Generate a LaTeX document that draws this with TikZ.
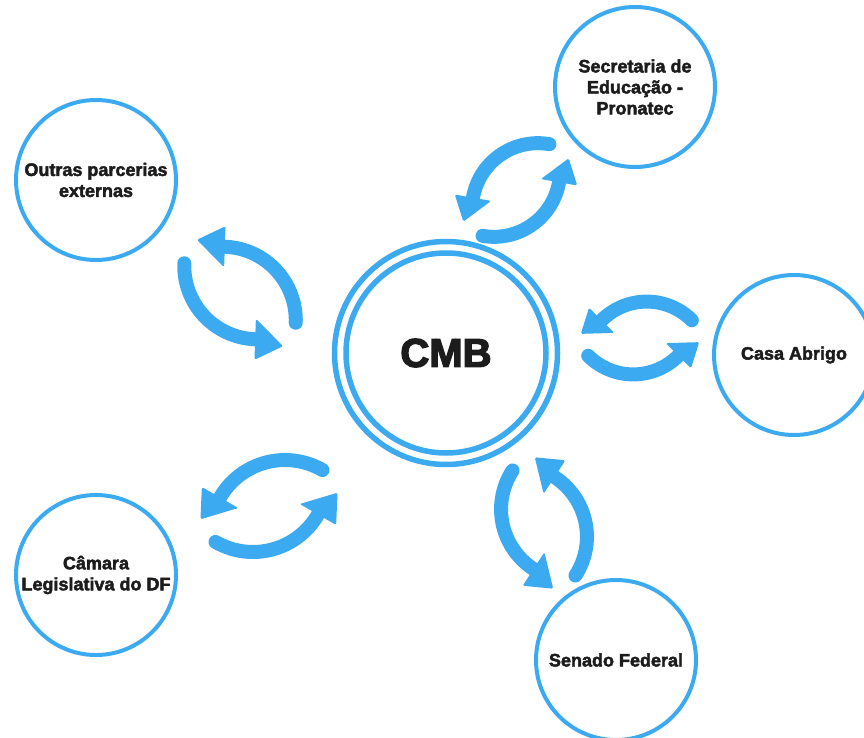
\documentclass[tikz,border=0pt]{standalone}
\usepackage{fontspec}
\setmainfont{Liberation Sans}
\newfontfamily\heavyfont{Liberation Sans Bold}[FakeBold=2.5]
\newfontfamily\blackfont{Liberation Sans Bold}[FakeBold=3.5]
\usepackage{tikz}

\definecolor{ringblue}{RGB}{60,170,240}
\definecolor{textdark}{RGB}{28,28,28}

\tikzset{
	partner/.style={circle, draw=ringblue, line width=4pt, minimum size=160pt, inner sep=0pt, align=center, text=textdark, font=\heavyfont\fontsize{18}{21}\selectfont},
	hubring/.style={circle, draw=ringblue, line width=5.5pt, inner sep=0pt},
	syncline/.style={draw=ringblue, line width=14pt, line cap=round},
	synchead/.style={fill=ringblue, rounded corners=1.5pt}
}

\begin{document}
\begin{tikzpicture}[x=1pt,y=-1pt]
		\useasboundingbox (0,0) rectangle (864,738);
		% hub with double ring
		\node[hubring, minimum size=200pt, text=textdark, font=\blackfont\fontsize{40}{42}\selectfont] (cmb) at (446,353) {CMB};
		\node[hubring, minimum size=223pt] (cmbouter) at (cmb) {};
		% partners
		\node[partner] (secretaria) at (635,87) {Secretaria de\\Educação -\\Pronatec};
		\node[partner] (outras) at (96,180) {Outras parcerias\\externas};
		\node[partner] (casa) at (794,355) {Casa Abrigo};
		\node[partner] (camara) at (96,575) {Câmara\\Legislativa do DF};
		\node[partner] (senado) at (616,660) {Senado Federal};
		% exchange arrows: centre / turn / size
		\foreach \cx/\cy/\turn/\sz in {516/190/20/0.88, 240/293/-62/0.98, 640/338/-15/0.85, 269/506/0/1, 544/523/87/0.95} {
		\begin{scope}[shift={(\cx,\cy)}, scale=\sz, rotate=\turn, yscale=-1]
			\foreach \k in {0,180} {
			\begin{scope}[rotate=\k, shift={(16,-29)}]
				\draw[syncline] plot[domain=60:150, samples=30, smooth] (\x:75);
				\fill[synchead] (150:54) -- (150:96) -- (169.5:86) -- cycle;
			\end{scope}
			}
		\end{scope}
		}
	\end{tikzpicture}
\end{document}
